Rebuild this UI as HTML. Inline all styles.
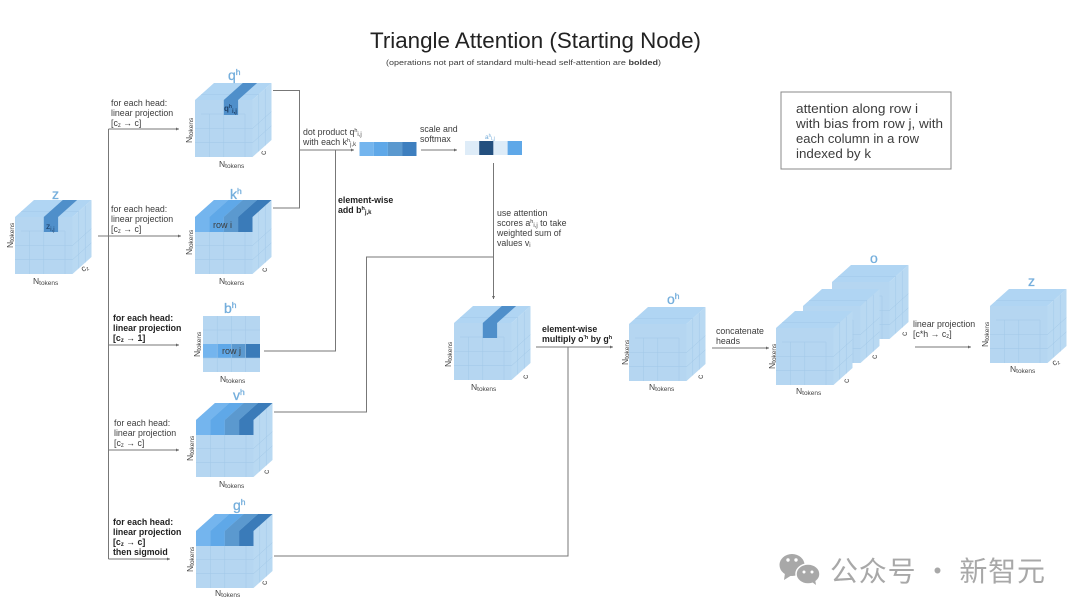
<!DOCTYPE html>
<html><head><meta charset="utf-8"><style>
html,body{margin:0;padding:0;background:#fff}
svg{display:block;filter:blur(.35px)}
text{font-family:"Liberation Sans","Noto Sans CJK SC",sans-serif;fill:#3c3c3c}
.l{font-size:8.8px}
.b{font-size:8.8px;font-weight:bold;fill:#222}
.h{font-size:14px;fill:#74aedc;stroke:#74aedc;stroke-width:.3}
.n{font-size:8.5px;fill:#444}
.c{stroke:#777;stroke-width:1;fill:none}
.g{stroke:#a2c8e8;stroke-width:.5;fill:none}
</style></head><body>
<svg width="1080" height="613" viewBox="0 0 1080 613" xmlns="http://www.w3.org/2000/svg">
<defs>
<g id="cube">
<polygon points="0,17 57.5,17 76.5,0 19,0" fill="#b0d5f3"/>
<polygon points="57.5,17 76.5,0 76.5,57 57.5,74" fill="#b9d9f2"/>
<rect x="0" y="17" width="57.5" height="57" fill="#b5d6f1"/>
<path class="g" d="M14.4 31V74M28.8 31V74M0 45.5H57.5M0 59.7H57.5"/>
<path class="g" d="M63.8 11.3V68.3M70.2 5.7V62.7M57.5 45.5L76.5 28.5M57.5 59.7L76.5 42.7"/>
<path class="g" d="M6.3 11.3H63.8M6 31H50V74"/>
</g>
<g id="strip">
<polygon points="28.8,17 43.1,17 62.1,0 47.8,0" fill="#4f8fca"/>
<rect x="28.8" y="17" width="14.3" height="15" fill="#4f8fca"/>
</g>
<g id="row">
<polygon points="0,17 14.4,17 33.4,0 19,0" fill="#74b5ee"/>
<polygon points="14.4,17 28.8,17 47.8,0 33.4,0" fill="#5fa8e8"/>
<polygon points="28.8,17 43.1,17 62.1,0 47.8,0" fill="#5b99cf"/>
<polygon points="43.1,17 57.5,17 76.5,0 62.1,0" fill="#3a7bb9"/>
<rect x="0" y="17" width="14.4" height="15" fill="#74b5ee"/>
<rect x="14.4" y="17" width="14.4" height="15" fill="#5fa8e8"/>
<rect x="28.8" y="17" width="14.3" height="15" fill="#5b99cf"/>
<rect x="43.1" y="17" width="14.4" height="15" fill="#3a7bb9"/>
</g>
<marker id="ar" markerWidth="6" markerHeight="6" refX="3" refY="1.5" orient="auto"><path d="M0 0L3 1.5L0 3Z" fill="#666"/></marker>
</defs>

<rect width="1080" height="613" fill="#fff"/>

<text x="370" y="48" font-size="22" textLength="331" lengthAdjust="spacingAndGlyphs" style="fill:#222">Triangle Attention (Starting Node)</text>
<text x="386" y="65" font-size="7.6" textLength="275" lengthAdjust="spacingAndGlyphs">(operations not part of standard multi-head self-attention are <tspan font-weight="bold">bolded</tspan>)</text>

<rect x="781" y="92" width="170" height="77" fill="#fff" stroke="#888" stroke-width="1"/>
<g font-size="12.5">
<text x="796" y="113" textLength="122" lengthAdjust="spacingAndGlyphs">attention along row i</text>
<text x="796" y="128" textLength="147" lengthAdjust="spacingAndGlyphs">with bias from row j, with</text>
<text x="796" y="143" textLength="123" lengthAdjust="spacingAndGlyphs">each column in a row</text>
<text x="796" y="158" textLength="75" lengthAdjust="spacingAndGlyphs">indexed by k</text>
</g>

<!-- connectors -->
<path class="c" d="M108.5 129V559"/>
<path class="c" d="M108.5 129H179" marker-end="url(#ar)"/>
<path class="c" d="M98 236H181" marker-end="url(#ar)"/>
<path class="c" d="M108.5 345H179" marker-end="url(#ar)"/>
<path class="c" d="M108.5 450H179" marker-end="url(#ar)"/>
<path class="c" d="M108.5 559H170" marker-end="url(#ar)"/>
<path class="c" d="M273 90.5H299.5V208H273"/>
<path class="c" d="M299.5 150H354" marker-end="url(#ar)"/>
<path class="c" d="M335.5 150V351H264"/>
<path class="c" d="M421 150H457" marker-end="url(#ar)"/>
<path class="c" d="M493.5 163V299" marker-end="url(#ar)"/>
<path class="c" d="M274 412H366.5V257H493.5"/>
<path class="c" d="M274 556H568V347"/>
<path class="c" d="M536 347H613" marker-end="url(#ar)"/>
<path class="c" d="M712 348H769" marker-end="url(#ar)"/>
<path class="c" d="M915 347H971" marker-end="url(#ar)"/>

<!-- attention bars -->
<rect x="359.5" y="142" width="14.2" height="14" fill="#74b5ee"/>
<rect x="373.7" y="142" width="14.2" height="14" fill="#5fa8e8"/>
<rect x="387.9" y="142" width="14.2" height="14" fill="#5b99cf"/>
<rect x="402.1" y="142" width="14.4" height="14" fill="#3e7fbf"/>
<rect x="465" y="141" width="14.2" height="14" fill="#deecf8"/>
<rect x="479.2" y="141" width="14.2" height="14" fill="#234f7e"/>
<rect x="493.4" y="141" width="14.2" height="14" fill="#deecf8"/>
<rect x="507.6" y="141" width="14.4" height="14" fill="#5fa8e8"/>

<!-- cubes -->
<use href="#cube" x="15" y="200"/><use href="#strip" x="15" y="200"/>
<use href="#cube" x="195" y="83"/><use href="#strip" x="195" y="83"/>
<use href="#cube" x="195" y="200"/><use href="#row" x="195" y="200"/>
<use href="#cube" x="196" y="403"/><use href="#row" x="196" y="403"/>
<use href="#cube" x="196" y="514"/><use href="#row" x="196" y="514"/>
<use href="#cube" x="454" y="306"/><use href="#strip" x="454" y="306"/>
<use href="#cube" x="629" y="307"/>
<use href="#cube" x="832" y="265"/>
<use href="#cube" x="803" y="289"/>
<use href="#cube" x="776" y="311"/>
<use href="#cube" x="990" y="289"/>

<!-- b matrix -->
<rect x="203" y="316" width="57" height="56" fill="#b5d6f1"/>
<rect x="203" y="344" width="14.2" height="14" fill="#74b5ee"/>
<rect x="217.2" y="344" width="14.2" height="14" fill="#5fa8e8"/>
<rect x="231.4" y="344" width="14.2" height="14" fill="#5b99cf"/>
<rect x="245.6" y="344" width="14.4" height="14" fill="#3a7bb9"/>
<path class="g" d="M217.2 316V372M231.4 316V372M245.6 316V372M203 330H260M203 358H260"/>

<!-- headings -->
<text class="h" x="52" y="199">z</text>
<text class="h" x="228" y="80">q<tspan font-size="8.5" dy="-5">h</tspan></text>
<text class="h" x="230" y="199">k<tspan font-size="8.5" dy="-5">h</tspan></text>
<text class="h" x="224" y="313">b<tspan font-size="8.5" dy="-5">h</tspan></text>
<text class="h" x="233" y="400">v<tspan font-size="8.5" dy="-5">h</tspan></text>
<text class="h" x="233" y="510">g<tspan font-size="8.5" dy="-5">h</tspan></text>
<text class="h" x="667" y="304">o<tspan font-size="8.5" dy="-5">h</tspan></text>
<text class="h" x="870" y="263">o</text>
<text class="h" x="1028" y="286">z</text>

<!-- in-cube labels -->
<text x="46" y="229" font-size="8.5" style="fill:#1d3f66">z<tspan font-size="6" dy="2">i,j</tspan></text>
<text x="224" y="111" font-size="8" font-weight="bold" style="fill:#1d3f66">q<tspan font-size="5" dy="-3">h</tspan><tspan font-size="6" dy="5">i,j</tspan></text>
<text x="213" y="228" font-size="9">row i</text>
<text x="222" y="354" font-size="9">row j</text>
<text x="485" y="139" font-size="6.5" style="fill:#6fa9d8">a<tspan font-size="4.5" dy="-2">h</tspan><tspan font-size="5" dy="3">i,j</tspan></text>

<!-- N tokens bottom -->
<text class="n" x="33" y="284">N<tspan font-size="6.5" dy="1">tokens</tspan></text>
<text class="n" x="219" y="167">N<tspan font-size="6.5" dy="1">tokens</tspan></text>
<text class="n" x="219" y="284">N<tspan font-size="6.5" dy="1">tokens</tspan></text>
<text class="n" x="220" y="382">N<tspan font-size="6.5" dy="1">tokens</tspan></text>
<text class="n" x="219" y="487">N<tspan font-size="6.5" dy="1">tokens</tspan></text>
<text class="n" x="215" y="596">N<tspan font-size="6.5" dy="1">tokens</tspan></text>
<text class="n" x="471" y="390">N<tspan font-size="6.5" dy="1">tokens</tspan></text>
<text class="n" x="649" y="390">N<tspan font-size="6.5" dy="1">tokens</tspan></text>
<text class="n" x="796" y="394">N<tspan font-size="6.5" dy="1">tokens</tspan></text>
<text class="n" x="1010" y="372">N<tspan font-size="6.5" dy="1">tokens</tspan></text>

<!-- N tokens rotated -->
<text class="n" transform="translate(13,248) rotate(-90)">N<tspan font-size="6.5" dy="1">tokens</tspan></text>
<text class="n" transform="translate(192,143) rotate(-90)">N<tspan font-size="6.5" dy="1">tokens</tspan></text>
<text class="n" transform="translate(192,255) rotate(-90)">N<tspan font-size="6.5" dy="1">tokens</tspan></text>
<text class="n" transform="translate(200,357) rotate(-90)">N<tspan font-size="6.5" dy="1">tokens</tspan></text>
<text class="n" transform="translate(193,461) rotate(-90)">N<tspan font-size="6.5" dy="1">tokens</tspan></text>
<text class="n" transform="translate(193,572) rotate(-90)">N<tspan font-size="6.5" dy="1">tokens</tspan></text>
<text class="n" transform="translate(451,367) rotate(-90)">N<tspan font-size="6.5" dy="1">tokens</tspan></text>
<text class="n" transform="translate(628,365) rotate(-90)">N<tspan font-size="6.5" dy="1">tokens</tspan></text>
<text class="n" transform="translate(775,369) rotate(-90)">N<tspan font-size="6.5" dy="1">tokens</tspan></text>
<text class="n" transform="translate(988,347) rotate(-90)">N<tspan font-size="6.5" dy="1">tokens</tspan></text>

<!-- c labels -->
<text class="n" transform="translate(83,272) rotate(-30)">c<tspan font-size="5.5" dy="1">z</tspan></text>
<text class="n" transform="translate(266,155) rotate(-90)">c</text>
<text class="n" transform="translate(267,272) rotate(-90)">c</text>
<text class="n" transform="translate(269,474) rotate(-90)">c</text>
<text class="n" transform="translate(267,585) rotate(-90)">c</text>
<text class="n" transform="translate(528,379) rotate(-90)">c</text>
<text class="n" transform="translate(703,379) rotate(-90)">c</text>
<text class="n" transform="translate(849,383) rotate(-90)">c</text>
<text class="n" transform="translate(877,359) rotate(-90)">c</text>
<text class="n" transform="translate(907,336) rotate(-90)">c</text>
<text class="n" transform="translate(1054,366) rotate(-30)">c<tspan font-size="5.5" dy="1">z</tspan></text>

<!-- connector labels -->
<text class="l" x="111" y="106">for each head:</text>
<text class="l" x="111" y="116">linear projection</text>
<text class="l" x="111" y="126">[c<tspan font-size="6" dy="1">z</tspan><tspan dy="-1"> → c]</tspan></text>

<text class="l" x="111" y="212">for each head:</text>
<text class="l" x="111" y="222">linear projection</text>
<text class="l" x="111" y="232">[c<tspan font-size="6" dy="1">z</tspan><tspan dy="-1"> → c]</tspan></text>

<text class="b" x="113" y="321">for each head:</text>
<text class="b" x="113" y="331">linear projection</text>
<text class="b" x="113" y="341">[c<tspan font-size="6" dy="1">z</tspan><tspan dy="-1"> → 1]</tspan></text>

<text class="l" x="114" y="426">for each head:</text>
<text class="l" x="114" y="436">linear projection</text>
<text class="l" x="114" y="446">[c<tspan font-size="6" dy="1">z</tspan><tspan dy="-1"> → c]</tspan></text>

<text class="b" x="113" y="525">for each head:</text>
<text class="b" x="113" y="535">linear projection</text>
<text class="b" x="113" y="545">[c<tspan font-size="6" dy="1">z</tspan><tspan dy="-1"> → c]</tspan></text>
<text class="b" x="113" y="555">then sigmoid</text>

<text class="l" x="303" y="135">dot product q<tspan font-size="5.5" dy="-3">h</tspan><tspan font-size="6" dy="4">i,j</tspan></text>
<text class="l" x="303" y="145">with each k<tspan font-size="5.5" dy="-3">h</tspan><tspan font-size="6" dy="4">j,k</tspan></text>
<text class="l" x="420" y="132">scale and</text>
<text class="l" x="420" y="142">softmax</text>
<text class="b" x="338" y="203">element-wise</text>
<text class="b" x="338" y="213">add  b<tspan font-size="5.5" dy="-3">h</tspan><tspan font-size="6" dy="4">j,k</tspan></text>
<text class="l" x="497" y="216">use attention</text>
<text class="l" x="497" y="226">scores a<tspan font-size="5.5" dy="-3">h</tspan><tspan font-size="6" dy="4">i,j</tspan><tspan dy="-1"> to take</tspan></text>
<text class="l" x="497" y="236">weighted sum of</text>
<text class="l" x="497" y="246">values v<tspan font-size="6" dy="1">i</tspan></text>
<text class="b" x="542" y="332">element-wise</text>
<text class="b" x="542" y="342">multiply o<tspan font-size="5.5" dy="-3">'h</tspan><tspan dy="3"> by g</tspan><tspan font-size="5.5" dy="-3">h</tspan></text>
<text class="l" x="716" y="334">concatenate</text>
<text class="l" x="716" y="344">heads</text>
<text class="l" x="913" y="327">linear projection</text>
<text class="l" x="913" y="337">[c*h → c<tspan font-size="6" dy="1">z</tspan><tspan dy="-1">]</tspan></text>

<!-- watermark -->
<g fill="#a8a8a8">
<ellipse cx="792" cy="565" rx="12.5" ry="11"/>
<path d="M785 573L784 580L792 575Z"/>
<ellipse cx="808" cy="574" rx="12" ry="10" stroke="#fff" stroke-width="1.5"/>
<path d="M812 582L816 585L815 579Z"/>
</g>
<g fill="#fff"><circle cx="788" cy="560" r="1.7"/><circle cx="796" cy="560" r="1.7"/><circle cx="804" cy="572" r="1.5"/><circle cx="812" cy="572" r="1.5"/></g>
<text x="830" y="581" font-size="28" textLength="215" lengthAdjust="spacing" style="fill:#a8a8a8;font-family:'Noto Sans CJK SC','WenQuanYi Zen Hei',sans-serif">公众号 · 新智元</text>
</svg>
</body></html>
